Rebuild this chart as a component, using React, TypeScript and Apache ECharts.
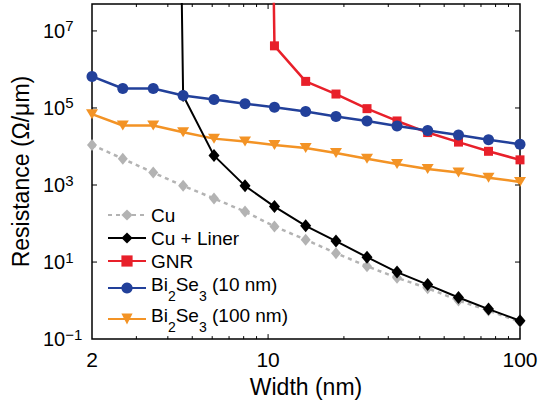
import React, { useEffect, useRef } from 'react';
import * as echarts from 'echarts';

// Widths (nm)
const widths = [2, 2.65, 3.5, 4.6, 6.1, 8.1, 10.6, 14.1, 18.6, 24.7, 32.5, 43, 57, 75, 100];
// Resistance (Ohm/um); null = no point
const cu = [1.1e4, 4.8e3, 2.1e3, 950, 447, 204, 84, 38, 17, 7.8, 3.9, 2.1, 1.0, 0.55, 0.28];
const cuLiner = [null, null, 1e60, 2.1e5, 5.8e3, 950, 275, 87, 35, 13.4, 5.5, 2.6, 1.2, 0.6, 0.3];
const gnr = [null, null, null, null, null, 1e60, 4.1e6, 4.9e5, 2.3e5, 9.6e4, 4.6e4, 2.3e4, 1.3e4, 7.5e3, 4.5e3];
const bi10 = [6.6e5, 3.2e5, 3.2e5, 2.1e5, 1.66e5, 1.29e5, 1.05e5, 8.1e4, 6.0e4, 4.6e4, 3.4e4, 2.6e4, 2.0e4, 1.5e4, 1.15e4];
const bi100 = [6.9e4, 3.5e4, 3.5e4, 2.35e4, 1.6e4, 1.35e4, 1.1e4, 9.1e3, 6.8e3, 4.8e3, 3.5e3, 2.6e3, 2.1e3, 1.55e3, 1.2e3];

const seriesNames = ['Cu', 'Cu + Liner', 'GNR', 'Bi2Se3 (10 nm)', 'Bi2Se3 (100 nm)'];
const legendRich: Record<string, string> = {
  'Bi2Se3 (10 nm)': '{n|Bi}{s|2}{n|Se}{s|3}{n| (10 nm)}',
  'Bi2Se3 (100 nm)': '{n|Bi}{s|2}{n|Se}{s|3}{n| (100 nm)}',
};

const xMinorTicks = [3, 4, 5, 6, 7, 8, 9, 20, 30, 40, 50, 60, 70, 80, 90];
const xMajorTicks = [10];
const yMajorTicks = [10, 1e3, 1e5, 1e7];

const FONT = 'Liberation Sans, Arial, Helvetica, sans-serif';

function pairs(vals: (number | null)[]) {
  return widths
    .map((w, i) => (vals[i] == null ? null : [w, vals[i] as number]))
    .filter((p) => p !== null) as number[][];
}

function xTickSeries(vals: number[], len: number) {
  return {
    type: 'custom',
    silent: true,
    clip: false,
    z: 10,
    data: vals.map((v) => [v, 1]),
    renderItem: (params: any, api: any) => {
      const x = api.coord([api.value(0), 1])[0];
      const cs = params.coordSys;
      const b = cs.y + cs.height;
      return {
        type: 'group',
        children: [
          { type: 'line', shape: { x1: x, y1: b, x2: x, y2: b - len }, style: { stroke: '#000', lineWidth: 1 } },
          { type: 'line', shape: { x1: x, y1: cs.y, x2: x, y2: cs.y + len }, style: { stroke: '#000', lineWidth: 1 } },
        ],
      };
    },
  };
}

function yTickSeries(vals: number[], len: number) {
  return {
    type: 'custom',
    silent: true,
    clip: false,
    z: 10,
    data: vals.map((v) => [10, v]),
    renderItem: (params: any, api: any) => {
      const y = api.coord([10, api.value(1)])[1];
      const cs = params.coordSys;
      const r = cs.x + cs.width;
      return {
        type: 'group',
        children: [
          { type: 'line', shape: { x1: cs.x, y1: y, x2: cs.x + len, y2: y }, style: { stroke: '#000', lineWidth: 1 } },
          { type: 'line', shape: { x1: r, y1: y, x2: r - len, y2: y }, style: { stroke: '#000', lineWidth: 1 } },
        ],
      };
    },
  };
}

export default function App() {
  const ref = useRef<HTMLDivElement>(null);
  useEffect(() => {
    if (!ref.current) return;
    const chart = echarts.init(ref.current, null, { renderer: 'svg' });
    chart.setOption({
      animation: false,
      textStyle: { fontFamily: FONT },
      grid: {
        left: 92,
        top: 4,
        width: 428,
        height: 338,
        show: true,
        borderColor: '#000',
        borderWidth: 1.5,
        backgroundColor: 'transparent',
      },
      legend: {
        data: seriesNames,
        orient: 'vertical',
        left: 107,
        top: 204,
        itemWidth: 38,
        itemHeight: 14,
        itemGap: 1,
        padding: 0,
        formatter: (name: string) => legendRich[name] ?? name,
        textStyle: {
          fontFamily: FONT,
          fontSize: 19,
          lineHeight: 22,
          color: '#000',
          rich: {
            n: { fontFamily: FONT, fontSize: 19, lineHeight: 22, height: 22, verticalAlign: 'top', color: '#000' },
            s: { fontFamily: FONT, fontSize: 14, lineHeight: 30, height: 14, verticalAlign: 'bottom', color: '#000' },
          },
        },
      },
      xAxis: {
        type: 'log',
        logBase: 10,
        min: 2,
        max: 100,
        name: 'Width (nm)',
        nameLocation: 'middle',
        nameGap: 30,
        nameTextStyle: { fontFamily: FONT, fontSize: 23, color: '#000' },
        axisLine: { show: false },
        axisTick: { show: false },
        splitLine: { show: false },
        axisLabel: {
          margin: 10,
          fontFamily: FONT,
          fontSize: 21,
          color: '#000',
          formatter: (v: number) => String(Math.round(v)),
        },
      },
      yAxis: {
        type: 'log',
        logBase: 10,
        min: 0.1,
        max: 5e7,
        name: 'Resistance (Ω/μm)',
        nameLocation: 'middle',
        nameGap: 60,
        nameTextStyle: { fontFamily: FONT, fontSize: 23, color: '#000' },
        axisLine: { show: false },
        axisTick: { show: false },
        splitLine: { show: false },
        axisLabel: {
          margin: 49,
          align: 'left',
          fontFamily: FONT,
          color: '#000',
          formatter: (v: number) => {
            const l = Math.log10(v);
            const e = Math.round(l);
            if (Math.abs(l - e) > 0.01 || e % 2 === 0) return '';
            return `{b|10}{e|${e < 0 ? '−' : ''}${Math.abs(e)}}`;
          },
          rich: {
            b: { fontFamily: FONT, fontSize: 20, color: '#000' },
            e: { fontFamily: FONT, fontSize: 15, padding: [0, 0, 10, 0], color: '#000' },
          },
        },
      },
      series: [
        {
          name: 'Cu',
          type: 'line',
          z: 2,
          data: pairs(cu),
          symbol: 'diamond',
          symbolSize: [10, 12],
          itemStyle: { color: '#b3b3b3' },
          lineStyle: { color: '#b3b3b3', width: 2.5, type: [4, 4] },
        },
        {
          name: 'Cu + Liner',
          type: 'line',
          z: 4,
          data: pairs(cuLiner),
          symbol: 'diamond',
          symbolSize: [11, 13],
          itemStyle: { color: '#000' },
          lineStyle: { color: '#000', width: 2 },
        },
        {
          name: 'GNR',
          type: 'line',
          z: 5,
          data: pairs(gnr),
          symbol: 'rect',
          symbolSize: 9,
          itemStyle: { color: '#e8202a' },
          lineStyle: { color: '#e8202a', width: 2.5 },
        },
        {
          name: 'Bi2Se3 (10 nm)',
          type: 'line',
          z: 6,
          data: pairs(bi10),
          symbol: 'circle',
          symbolSize: 11,
          itemStyle: { color: '#22409a' },
          lineStyle: { color: '#22409a', width: 2.5 },
        },
        {
          name: 'Bi2Se3 (100 nm)',
          type: 'line',
          z: 3,
          data: pairs(bi100),
          symbol: 'triangle',
          symbolRotate: 180,
          symbolSize: [12, 10],
          itemStyle: { color: '#f39325' },
          lineStyle: { color: '#f39325', width: 2.5 },
        },
        xTickSeries(xMinorTicks, 3),
        xTickSeries(xMajorTicks, 5),
        yTickSeries(yMajorTicks, 5),
      ],
    });
    return () => chart.dispose();
  }, []);
  return (
    <div
      ref={ref}
      style={{ position: 'absolute', left: 0, top: 0, width: 541, height: 403 }}
    />
  );
}
